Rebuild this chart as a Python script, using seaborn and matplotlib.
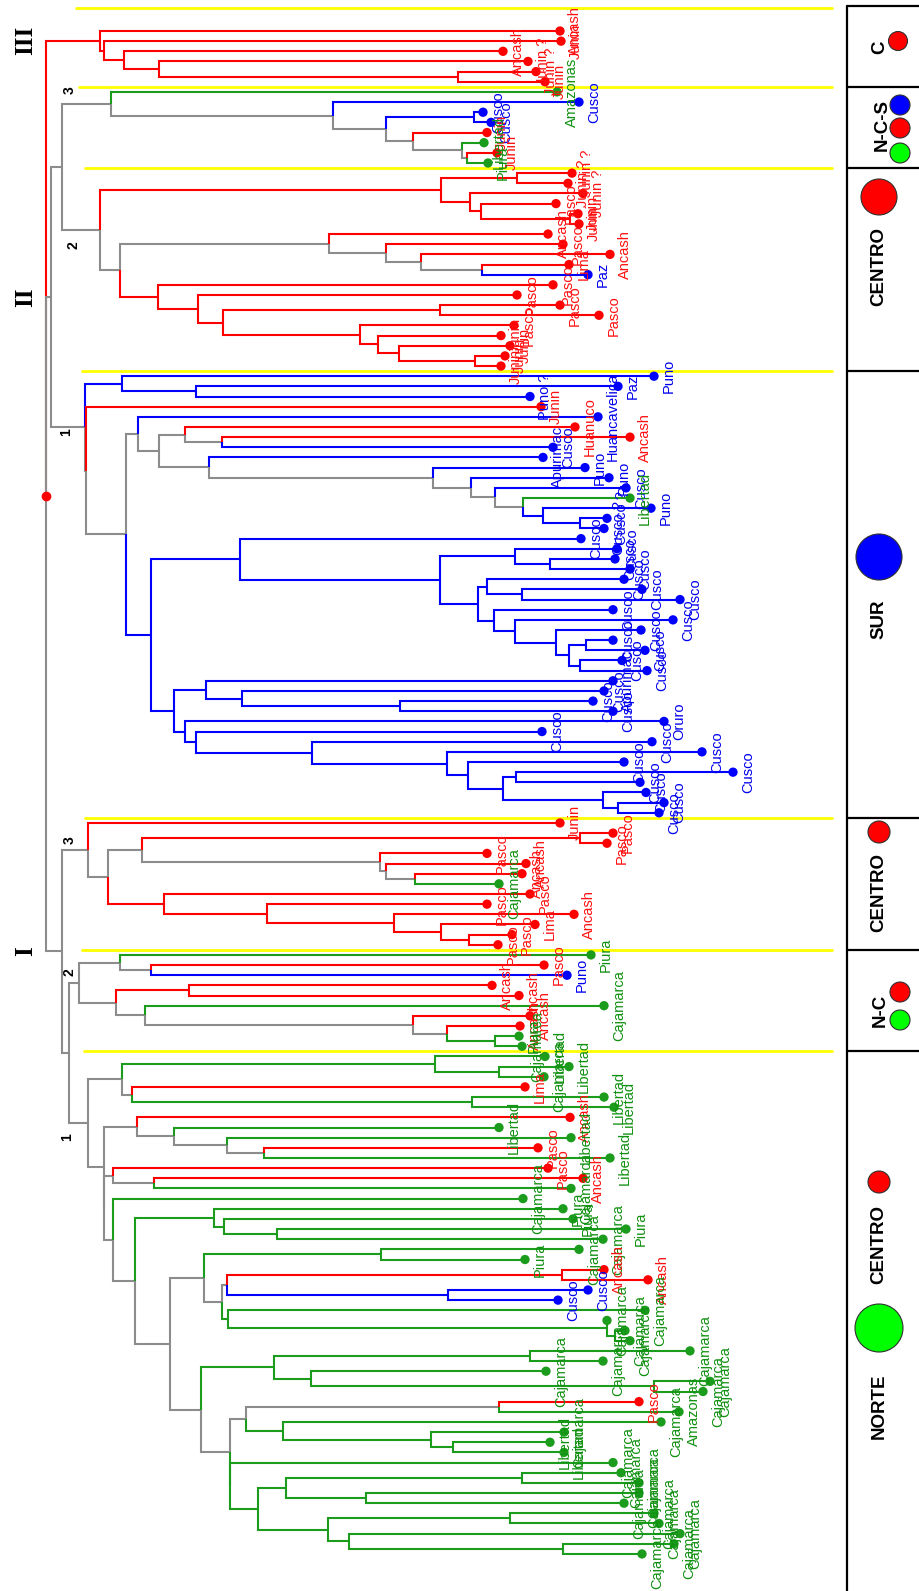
import matplotlib
matplotlib.use("Agg")
import matplotlib.pyplot as plt
from matplotlib.collections import LineCollection
from matplotlib.patches import Ellipse
import numpy as np
import pandas as pd
import seaborn as sns

# ---------------- leaves, top to bottom (per cluster) ----------------
names_III = ["Ancash", "Junin", "Ancash", "Junin ?", "Junin ?", "Junin"]
names_II3 = ["Amazonas", "Cusco", "Cusco", "Cusco", "Junin", "Libertad", "Junin", "Piura"]
names_II2 = ["Junin ?", "Junin ?", "Junin ?", "Pasco", "Junin", "Junin", "Ancash", "Pasco",
             "Ancash", "Lima", "Paz", "Pasco", "Pasco", "Pasco", "Pasco", "Pasco",
             "Junin", "Junin", "Junin", "Junin"]
names_II1 = ["Puno", "Paz", "Puno ?", "Junin", "Huancavelica", "Huanuco", "Ancash", "Cusco",
             "Apurimac", "Puno", "Puno", "Cusco", "Libertad", "Puno", "Cusco ?", "Cusco ?"] + \
            ["Cusco"] * 14 + ["Apurimac", "Cusco", "Cusco", "Cusco", "Oruro"] + ["Cusco"] * 9
names_I3 = ["Junin", "Pasco", "Pasco", "Pasco", "Ancash", "Ancash", "Cajamarca", "Pasco",
            "Pasco", "Ancash", "Lima", "Pasco", "Pasco"]
names_I2 = ["Piura", "Pasco", "Puno", "Ancash", "Ancash", "Cajamarca", "Ancash", "Ancash",
            "Piura", "Cajamarca"]
names_I1 = ["Libertad", "Libertad", "Cajamarca", "Lima", "Libertad", "Libertad", "Ancash",
            "Libertad", "Libertad", "Pasco", "Libertad", "Pasco", "Ancash", "Cajamarca",
            "Cajamarca", "Piura", "Piura", "Piura", "Cajamarca", "Cajamarca", "Piura",
            "Ancash", "Ancash", "Cusco", "Cusco"] + ["Cajamarca"] * 9 + \
           ["Pasco", "Amazonas", "Cajamarca", "Cajamarca", "Libertad", "Libertad"] + ["Cajamarca"] * 10

# region of origin: N = norte (green), C = centro (red), S = sur (blue)
region_III = "CCCCCC"
region_II3 = "NSSSCNCN"
region_II2 = "CCCCCCCCCCSCCCCCCCCC"
region_II1 = "SSSCSCCSSSSSNSSS" + "S" * 28
region_I3 = "CCCCCCNCCCCCC"
region_I2 = "NCSCCNCCNN"
region_I1 = "NNNCNNCNNCNCCNN" + "NNNNNN" + "CCSS" + "N" * 9 + "C" + "N" * 15

# tip distances (same units as node distances below)
tip_III = [560, 561, 503, 528, 536, 545]
tip_II3 = [557, 579, 483, 491, 487, 484, 497, 488]
tip_II2 = [572, 568, 583, 556, 578, 579, 548, 563, 610, 569,
           588, 553, 517, 560, 599, 514, 501, 510, 505, 501]
tip_II1 = [654, 618, 530, 541, 598, 575, 630, 553, 543, 585, 609, 626, 630, 651, 607, 604,
           581, 617, 615, 630, 624, 642, 680, 613, 673, 641, 613, 645, 622, 647,
           613, 604, 593, 613,
           664, 542, 652, 702, 624, 733, 640, 646, 664, 659]
tip_I3 = [560, 613, 607, 487, 526, 522, 499, 530, 487, 574, 535, 512, 498]
tip_I2 = [591, 544, 567, 492, 519, 604, 530, 520, 519, 522]
tip_I1 = [545, 569, 544, 525, 604, 614, 570, 499, 571, 538, 610, 548, 583, 571, 523,
          563, 573, 626, 603, 579, 525, 604, 648, 588, 558, 645, 607, 625, 630, 690,
          603, 546, 710, 703, 639, 679, 661, 564, 550, 564, 613, 621, 639, 639, 624,
          654, 659, 680, 674, 642]

leaf_names = names_III + names_II3 + names_II2 + names_II1 + names_I3 + names_I2 + names_I1
leaf_region = list(region_III + region_II3 + region_II2 + region_II1 + region_I3 + region_I2 + region_I1)
leaf_tip = tip_III + tip_II3 + tip_II2 + tip_II1 + tip_I3 + tip_I2 + tip_I1
group_sizes = [6, 8, 20, 44, 13, 10, 50]

# ---------------- topology: [node distance, child, child, ...]; ints = leaf index ----------------
clade_III = [100, 0, [104, 1, [124, 2, [159, 3, [458, 4, 5]]]]]
clade_II3 = [111, 6, [333, 7, [386, [474, 8, 9], [413, 10, [462, 11, [467, 12, 13]]]]]]
clade_II2 = [100,
             [441, [517, 14, 15], [470, 16, [481, 17, [570, 18, 19]]]],
             [120,
              [329, 20, [386, 21, [421, 22, [482, 23, 24]]]],
              [158, 25, [198, 26, [223, [440, 27, 28],
                                   [360, 29, [378, 30, [399, 31, [475, 32, 33]]]]]]]]]
sub_G = [209, 42, [433, 43, [471, 44, [495, 45, [523, 46, [543, 47, [580, 48, 49]]]]]]]
sub_H1 = [240, 50, [440, [515, 51, [550, 52, 53]],
                    [478, [487, 54, [522, 55, 56]],
                     [494, 57, [515, 58, [556, 59, [569, [586, 60, 61], [580, 62, 63]]]]]]]]
sub_H2 = [174, [206, 64, [242, 65, [400, 66, 67]]],
          [185, 68, [196, 69, [312, 70, [447, 71, [468, 72, [503, [516, 73, 74],
                                                             [603, 75, [618, 76, 77]]]]]]]]]
clade_II1 = [85, [122, 34, [196, 35, 36]],
             [86, 37, [126, [138, 38, [159, [185, 39, [222, 40, 41]], sub_G]],
                       [151, sub_H1, sub_H2]]]]
clade_I3 = [88, 78, [108, [142, [580, 79, 80], [380, 81, [386, 82, [415, 83, 84]]]],
                     [164, 85, [267, 86, [394, 87, [441, 88, [469, 89, 90]]]]]]]
clade_I2 = [79, [120, 91, [151, 92, 93]],
            [116, [189, 94, 95], [145, 96, [413, 97, [447, 98, [495, 99, 100]]]]]]
sub_M1 = [122, [435, 101, [499, 102, 103]], [132, 104, [472, 105, 106]]]
sub_M3 = [137, 107, [174, 108, [227, 109, [264, 110, 111]]]]
sub_M8 = [113, 112, [154, 113, 114]]
sub_M12 = [214, 116, [224, 117, [277, 118, 119]]]
sub_M16 = [204, [381, 120, 121],
           [222, [227, [562, 122, 123], [448, 124, 125]],
            [228, 126, [607, 127, [615, 128, 129]]]]]
sub_M17 = [201, [274, [530, 130, 131], [311, 132, [654, 133, 134]]],
           [230, [246, [499, 135, 136], [283, 137, [431, 138, [453, 139, 140]]]],
            [230, 141, [258, [286, [522, 142, 143], [366, 144, 145]],
                        [328, [510, 146, 147], [349, 148, [563, 149, 150]]]]]]]
clade_I1 = [88, sub_M1, [104, sub_M3, [104, sub_M8, [113, 115, [135, sub_M12, [170, sub_M16, sub_M17]]]]]]
clade_II = [51, [62, clade_II3, clade_II2], clade_II1]
clade_I = [62, clade_I3, [69, clade_I2, clade_I1]]
tree = [46, clade_III, clade_II, clade_I]

# ---------------- styling ----------------
line_col = {"N": "#1c9c1c", "C": "#ff0000", "S": "#0000ff"}
text_col = {"N": "#109010", "C": "#ff1010", "S": "#0000ee"}
GREY = "#8c8c8c"
W, H = 919, 1591
Y0, DY = 31, 10.153   # pixel row of first leaf and pixel spacing of leaves


def iy(p):
    return (p - Y0) / DY


def build(node):
    if isinstance(node, int):
        return {"x": leaf_tip[node], "y": node, "reg": {leaf_region[node]}, "kids": []}
    d, *kids = node
    ks = [build(k) for k in kids]
    return {"x": d, "y": (ks[0]["y"] + ks[-1]["y"]) / 2,
            "reg": set().union(*[k["reg"] for k in ks]), "kids": ks}


segs, cols = [], []


def draw(n):
    for k in n["kids"]:
        c = line_col[next(iter(k["reg"]))] if len(k["reg"]) == 1 else GREY
        segs.append([(n["x"], n["y"]), (n["x"], k["y"]), (k["x"], k["y"])])
        cols.append(c)
        draw(k)


root = build(tree)
draw(root)

sns.set_theme(style="white")
plt.rcParams["font.family"] = ["Liberation Sans", "DejaVu Sans"]
fig = plt.figure(figsize=(W / 100, H / 100), dpi=100)
ax = fig.add_axes([0, 0, 1, 1])
ax.set_xlim(0, W)
ax.set_ylim(iy(H), iy(0))
ax.axis("off")

ax.add_collection(LineCollection(segs, colors=cols, linewidths=1.5,
                                 capstyle="butt", joinstyle="miter", zorder=2))

leaves = pd.DataFrame({"tip": leaf_tip, "row": np.arange(len(leaf_tip)),
                       "region": leaf_region, "name": leaf_names})
sns.scatterplot(data=leaves, x="tip", y="row", hue="region", palette=line_col,
                s=45, linewidth=0, legend=False, zorder=3, ax=ax)
for _, r in leaves.iterrows():
    ax.text(r["tip"] + 8, r["row"], r["name"], rotation=90, ha="left", va="center",
            fontsize=10.5, color=text_col[r["region"]], zorder=4)

# root marker
ax.plot(root["x"], root["y"], "o", color="#ff0000", ms=6, zorder=5)

# roman numerals for the three main clusters
for lab, k in zip(["III", "II", "I"], root["kids"]):
    ax.text(26, k["y"], lab, rotation=90, ha="center", va="center", fontsize=18,
            fontweight="bold", family="Liberation Serif", color="black")

# sub-cluster numbers
for lab, px, py in [("3", 70, 90), ("2", 73, 245), ("1", 66, 432),
                    ("3", 70, 840), ("2", 70, 972), ("1", 67, 1137)]:
    ax.text(px, iy(py), lab, rotation=90, ha="center", va="center", fontsize=10,
            fontweight="bold", color="black")

# yellow group separators and the side panel
bounds = list(np.cumsum(group_sizes)[:-1] - 0.5)
yl_y = [iy(8)] + bounds
yl_x0 = [76, 79, 85, 82, 85, 82, 84]
for y, x0 in zip(yl_y, yl_x0):
    ax.plot([x0, 832], [y, y], color="#ffff00", lw=2, zorder=1)

PX = 847
ax.plot([PX, PX], [iy(5.5), iy(H)], color="black", lw=1.6, zorder=1)
for y in [iy(5.5)] + bounds:
    ax.plot([PX, W], [y, y], color="black", lw=1.6, zorder=1)

panel_text = [("C", 880, 47), ("N-C-S", 882, 125), ("CENTRO", 879, 267), ("SUR", 879, 619),
              ("CENTRO", 879, 893), ("N-C", 880, 1010), ("CENTRO", 879, 1245), ("NORTE", 879, 1406)]
for t, px, py in panel_text:
    ax.text(px, iy(py), t, rotation=90, ha="center", va="center", fontsize=13.5,
            fontweight="bold", color="black")

panel_dots = [("C", 898, 41, 19), ("S", 900, 105, 20), ("C", 900, 128, 20), ("N", 900, 153, 20),
              ("C", 879, 197, 36), ("S", 879, 557, 46), ("C", 879, 832, 22),
              ("C", 900, 992, 20), ("N", 900, 1020, 20), ("C", 879, 1182, 22), ("N", 879, 1328, 48)]
dot_fill = {"N": "#00ff00", "C": "#ff0000", "S": "#0000ff"}
for reg, px, py, d in panel_dots:
    ax.add_patch(Ellipse((px, iy(py)), d, d / DY, facecolor=dot_fill[reg],
                         edgecolor="#303030", lw=0.8, zorder=3))

fig.savefig("out.png", dpi=100)
